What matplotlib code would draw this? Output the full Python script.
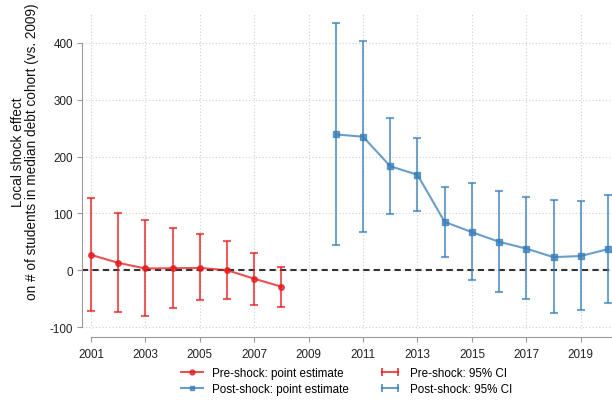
import matplotlib
matplotlib.use("Agg")
import matplotlib.pyplot as plt
from matplotlib.lines import Line2D
from matplotlib.legend_handler import HandlerLine2D

plt.rcParams['font.family'] = ['Liberation Sans', 'DejaVu Sans']
plt.rcParams['axes.unicode_minus'] = False

# event-study estimates, pre- and post-shock
pre_years = [2001, 2002, 2003, 2004, 2005, 2006, 2007, 2008]
pre_est = [27, 13, 3, 3.5, 4, 0, -15, -29]
pre_lo = [-71, -73, -81, -66, -53, -50, -61, -64]
pre_hi = [127, 100, 88, 74, 64, 52, 30, 5]

post_years = [2010, 2011, 2012, 2013, 2014, 2015, 2016, 2017, 2018, 2019, 2020]
post_est = [239, 235, 183, 168, 85, 67, 50, 38, 23, 25, 37]
post_lo = [44, 67, 99, 105, 24, -17, -39, -51, -76, -70, -58]
post_hi = [435, 403, 268, 232, 146, 154, 139, 129, 123, 121, 132]

xticks = list(range(2001, 2021, 2))
yticks = [-100, 0, 100, 200, 300, 400]

red = '#e41a1c'
blue = '#377eb8'
fs = 8.4

fig = plt.figure(figsize=(6.12, 4.06), dpi=100)
ax = fig.add_axes([82 / 612, 76 / 406, 530 / 612, 315 / 406])

ax.set_xlim(2000.67, 2020.15)
ax.set_ylim(-103.5, 451)

ax.grid(True, color='#d0d0d0', linestyle=(0, (1, 2)), linewidth=0.8)
ax.set_axisbelow(True)
ax.axhline(0, color='#333333', linestyle=(0, (3, 2)), linewidth=1.5, zorder=1)


def draw_series(years, est, lo, hi, color, marker, ms):
    err = [[e - l for e, l in zip(est, lo)], [h - e for e, h in zip(est, hi)]]
    ax.errorbar(years, est, yerr=err, fmt='none', ecolor=color, alpha=0.7,
                elinewidth=1.5, capsize=2.7, capthick=1.5, zorder=2)
    ax.plot(years, est, color=color, alpha=0.75, linewidth=1.5, marker=marker,
            markersize=ms, markerfacecolor=color, markeredgecolor=color, zorder=3)


draw_series(pre_years, pre_est, pre_lo, pre_hi, red, 'o', 4)
draw_series(post_years, post_est, post_lo, post_hi, blue, 's', 4.5)

ax.set_xticks(xticks)
ax.set_yticks(yticks)
ax.tick_params(labelsize=fs, color='#9a9a9a', length=3.6, width=0.8,
               labelcolor='#222222')
ax.tick_params(axis='x', pad=4)
ax.tick_params(axis='y', pad=3)
for side in ['top', 'right']:
    ax.spines[side].set_visible(False)
for side in ['left', 'bottom']:
    ax.spines[side].set_color('#9a9a9a')
    ax.spines[side].set_linewidth(0.8)
ax.spines['left'].set_bounds(-100, 400)
ax.spines['bottom'].set_bounds(2001, 2020.15)
ax.spines['bottom'].set_position(('outward', 6))

fig.text(25.5 / 612, 1 - 152 / 406,
         'Local shock effect\non # of students in median debt cohort (vs. 2009)',
         rotation=90, ha='center', va='center', multialignment='center',
         fontsize=9.8, linespacing=1.0, color='#111111')

# legend: point estimates in the first column, intervals in the second
h_pre = Line2D([], [], color=red, alpha=0.75, marker='o', markersize=3.5, linewidth=1.5)
h_post = Line2D([], [], color=blue, alpha=0.75, marker='s', markersize=3.5, linewidth=1.5)
h_pre_ci = Line2D([], [], color=red, alpha=0.75, marker='|', markersize=6,
                  markeredgewidth=1.5, linewidth=1.5)
h_post_ci = Line2D([], [], color=blue, alpha=0.75, marker='|', markersize=6,
                   markeredgewidth=1.5, linewidth=1.5)
fig.legend([h_pre, h_post, h_pre_ci, h_post_ci],
           ['Pre-shock: point estimate', 'Post-shock: point estimate',
            'Pre-shock: 95% CI', 'Post-shock: 95% CI'],
           ncol=2, loc='center', bbox_to_anchor=(346.5 / 612, 1 - 382 / 406),
           frameon=False, fontsize=8.4, handlelength=1.9, columnspacing=2.6,
           labelspacing=0.4, handletextpad=0.75, borderpad=0,
           handler_map={h_pre: HandlerLine2D(numpoints=1),
                        h_post: HandlerLine2D(numpoints=1),
                        h_pre_ci: HandlerLine2D(numpoints=2),
                        h_post_ci: HandlerLine2D(numpoints=2)})

fig.savefig('out.png', dpi=100)
